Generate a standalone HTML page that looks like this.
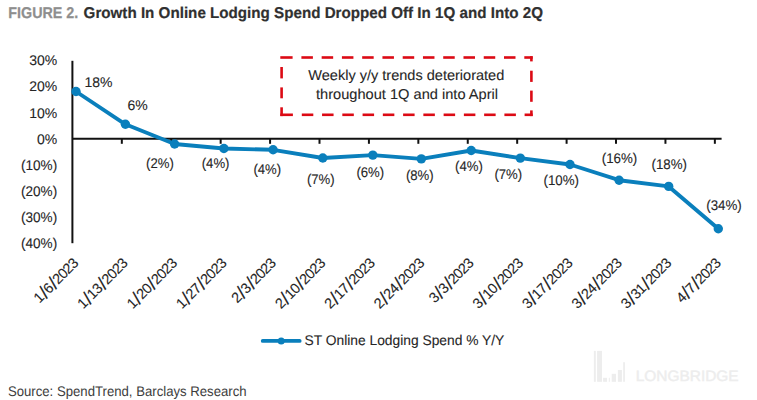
<!DOCTYPE html><html><head><meta charset="utf-8"><style>html,body{margin:0;padding:0;background:#fff;width:757px;height:400px;overflow:hidden}svg{display:block}text{font-family:"Liberation Sans",sans-serif;text-rendering:geometricPrecision}text.k{stroke:#262626;stroke-width:0.1px}text.h{stroke:#303030;stroke-width:0.2px}</style></head><body>
<svg width="757" height="400" viewBox="0 0 757 400">
<rect x="593.9" y="350.9" width="1.9" height="30.9" fill="#ededed"/>
<rect x="597.1" y="350.9" width="4.9" height="30.9" fill="#ededed"/>
<rect x="603.1" y="377.8" width="3.9" height="4.0" fill="#ededed"/>
<rect x="608.8" y="377.8" width="1.0" height="4.0" fill="#ededed"/>
<rect x="611.7" y="373.8" width="4.3" height="8.0" fill="#ededed"/>
<rect x="617.9" y="370" width="4.0" height="11.8" fill="#ededed"/>
<rect x="623.2" y="362.2" width="1.7" height="19.6" fill="#ededed"/>
<text x="635.7" y="381.4" font-size="15" fill="#ededed" stroke="#ededed" stroke-width="0.4" textLength="103" lengthAdjust="spacingAndGlyphs">LONGBRIDGE</text>
<text x="8.3" y="17.6" font-size="15.6" font-weight="bold" fill="#8e8e8e" stroke="#8e8e8e" stroke-width="0.25" textLength="70" lengthAdjust="spacingAndGlyphs">FIGURE 2.</text>
<text x="83.6" y="17.6" font-size="15.6" font-weight="bold" fill="#303030" class="h" textLength="459.4" lengthAdjust="spacingAndGlyphs">Growth In Online Lodging Spend Dropped Off In 1Q and Into 2Q</text>
<rect x="280.30" y="56.20" width="12.30" height="2.60" fill="#dc0a14"/>
<rect x="301.40" y="56.20" width="11.50" height="2.60" fill="#dc0a14"/>
<rect x="321.66" y="56.20" width="11.50" height="2.60" fill="#dc0a14"/>
<rect x="341.92" y="56.20" width="11.50" height="2.60" fill="#dc0a14"/>
<rect x="362.18" y="56.20" width="11.50" height="2.60" fill="#dc0a14"/>
<rect x="382.44" y="56.20" width="11.50" height="2.60" fill="#dc0a14"/>
<rect x="402.70" y="56.20" width="11.50" height="2.60" fill="#dc0a14"/>
<rect x="422.96" y="56.20" width="11.50" height="2.60" fill="#dc0a14"/>
<rect x="443.22" y="56.20" width="11.50" height="2.60" fill="#dc0a14"/>
<rect x="463.48" y="56.20" width="11.50" height="2.60" fill="#dc0a14"/>
<rect x="483.74" y="56.20" width="11.50" height="2.60" fill="#dc0a14"/>
<rect x="504.00" y="56.20" width="11.50" height="2.60" fill="#dc0a14"/>
<rect x="524.30" y="56.20" width="8.40" height="2.60" fill="#dc0a14"/>
<rect x="530.10" y="56.20" width="2.60" height="5.20" fill="#dc0a14"/>
<rect x="530.10" y="70.70" width="2.60" height="11.20" fill="#dc0a14"/>
<rect x="530.10" y="90.60" width="2.60" height="11.20" fill="#dc0a14"/>
<rect x="530.10" y="110.40" width="2.60" height="5.70" fill="#dc0a14"/>
<rect x="524.60" y="113.50" width="8.10" height="2.60" fill="#dc0a14"/>
<rect x="301.80" y="113.50" width="11.50" height="2.60" fill="#dc0a14"/>
<rect x="322.06" y="113.50" width="11.50" height="2.60" fill="#dc0a14"/>
<rect x="342.32" y="113.50" width="11.50" height="2.60" fill="#dc0a14"/>
<rect x="362.58" y="113.50" width="11.50" height="2.60" fill="#dc0a14"/>
<rect x="382.84" y="113.50" width="11.50" height="2.60" fill="#dc0a14"/>
<rect x="403.10" y="113.50" width="11.50" height="2.60" fill="#dc0a14"/>
<rect x="423.36" y="113.50" width="11.50" height="2.60" fill="#dc0a14"/>
<rect x="443.62" y="113.50" width="11.50" height="2.60" fill="#dc0a14"/>
<rect x="463.88" y="113.50" width="11.50" height="2.60" fill="#dc0a14"/>
<rect x="484.14" y="113.50" width="11.50" height="2.60" fill="#dc0a14"/>
<rect x="504.40" y="113.50" width="11.50" height="2.60" fill="#dc0a14"/>
<rect x="280.30" y="113.50" width="12.60" height="2.60" fill="#dc0a14"/>
<rect x="280.30" y="107.30" width="2.60" height="8.80" fill="#dc0a14"/>
<rect x="280.30" y="67.00" width="2.60" height="11.40" fill="#dc0a14"/>
<rect x="280.30" y="87.40" width="2.60" height="10.90" fill="#dc0a14"/>
<text x="406.3" y="80.2" font-size="14.3" fill="#262626" class="k" text-anchor="middle" textLength="196" lengthAdjust="spacingAndGlyphs">Weekly y/y trends deteriorated</text>
<text x="407" y="98.5" font-size="14.3" fill="#262626" class="k" text-anchor="middle" textLength="182" lengthAdjust="spacingAndGlyphs">throughout 1Q and into April</text>
<line x1="72.4" y1="60.8" x2="72.4" y2="243.2" stroke="#111" stroke-width="2"/>
<line x1="72.4" y1="138.8" x2="721.6" y2="138.8" stroke="#111" stroke-width="2"/>
<line x1="121.82" y1="138.8" x2="121.82" y2="143.8" stroke="#111" stroke-width="2"/>
<line x1="171.24" y1="138.8" x2="171.24" y2="143.8" stroke="#111" stroke-width="2"/>
<line x1="220.66" y1="138.8" x2="220.66" y2="143.8" stroke="#111" stroke-width="2"/>
<line x1="270.08" y1="138.8" x2="270.08" y2="143.8" stroke="#111" stroke-width="2"/>
<line x1="319.50" y1="138.8" x2="319.50" y2="143.8" stroke="#111" stroke-width="2"/>
<line x1="368.92" y1="138.8" x2="368.92" y2="143.8" stroke="#111" stroke-width="2"/>
<line x1="418.34" y1="138.8" x2="418.34" y2="143.8" stroke="#111" stroke-width="2"/>
<line x1="467.76" y1="138.8" x2="467.76" y2="143.8" stroke="#111" stroke-width="2"/>
<line x1="517.18" y1="138.8" x2="517.18" y2="143.8" stroke="#111" stroke-width="2"/>
<line x1="566.60" y1="138.8" x2="566.60" y2="143.8" stroke="#111" stroke-width="2"/>
<line x1="616.02" y1="138.8" x2="616.02" y2="143.8" stroke="#111" stroke-width="2"/>
<line x1="665.44" y1="138.8" x2="665.44" y2="143.8" stroke="#111" stroke-width="2"/>
<line x1="714.86" y1="138.8" x2="714.86" y2="143.8" stroke="#111" stroke-width="2"/>
<text x="57.2" y="64.8" font-size="14" fill="#262626" class="k" text-anchor="end">30%</text>
<text x="57.2" y="91.3" font-size="14" fill="#262626" class="k" text-anchor="end">20%</text>
<text x="57.2" y="118.0" font-size="14" fill="#262626" class="k" text-anchor="end">10%</text>
<text x="57.2" y="144.4" font-size="14" fill="#262626" class="k" text-anchor="end">0%</text>
<text x="57.2" y="170.2" font-size="14" fill="#262626" class="k" text-anchor="end" textLength="36.14" lengthAdjust="spacingAndGlyphs">(10%)</text>
<text x="57.2" y="196.2" font-size="14" fill="#262626" class="k" text-anchor="end" textLength="36.14" lengthAdjust="spacingAndGlyphs">(20%)</text>
<text x="57.2" y="222.3" font-size="14" fill="#262626" class="k" text-anchor="end" textLength="36.14" lengthAdjust="spacingAndGlyphs">(30%)</text>
<text x="57.2" y="247.8" font-size="14" fill="#262626" class="k" text-anchor="end" textLength="36.14" lengthAdjust="spacingAndGlyphs">(40%)</text>
<path d="M76,91.5 L125.4,124.3 L174.6,144 L223.9,148.5 L273.1,149.8 L322.8,158 L372.8,155.1 L421.3,158.9 L471.2,150.5 L520.3,158.1 L570,164.5 L619.1,180.2 L668.7,186.4 L718.3,228.8" fill="none" stroke="#0a7fbc" stroke-width="3.9" stroke-linejoin="round"/>
<circle cx="76" cy="91.5" r="4.7" fill="#0a7fbc"/>
<circle cx="125.4" cy="124.3" r="4.7" fill="#0a7fbc"/>
<circle cx="174.6" cy="144" r="4.7" fill="#0a7fbc"/>
<circle cx="223.9" cy="148.5" r="4.7" fill="#0a7fbc"/>
<circle cx="273.1" cy="149.8" r="4.7" fill="#0a7fbc"/>
<circle cx="322.8" cy="158" r="4.7" fill="#0a7fbc"/>
<circle cx="372.8" cy="155.1" r="4.7" fill="#0a7fbc"/>
<circle cx="421.3" cy="158.9" r="4.7" fill="#0a7fbc"/>
<circle cx="471.2" cy="150.5" r="4.7" fill="#0a7fbc"/>
<circle cx="520.3" cy="158.1" r="4.7" fill="#0a7fbc"/>
<circle cx="570" cy="164.5" r="4.7" fill="#0a7fbc"/>
<circle cx="619.1" cy="180.2" r="4.7" fill="#0a7fbc"/>
<circle cx="668.7" cy="186.4" r="4.7" fill="#0a7fbc"/>
<circle cx="718.3" cy="228.8" r="4.7" fill="#0a7fbc"/>
<text x="98.5" y="87.3" font-size="14" fill="#262626" class="k" text-anchor="middle">18%</text>
<text x="137.5" y="110.0" font-size="14" fill="#262626" class="k" text-anchor="middle">6%</text>
<text x="159.9" y="168.4" font-size="14" fill="#262626" class="k" text-anchor="middle" textLength="27.75" lengthAdjust="spacingAndGlyphs">(2%)</text>
<text x="215.6" y="168.1" font-size="14" fill="#262626" class="k" text-anchor="middle" textLength="27.75" lengthAdjust="spacingAndGlyphs">(4%)</text>
<text x="267.3" y="173.9" font-size="14" fill="#262626" class="k" text-anchor="middle" textLength="27.75" lengthAdjust="spacingAndGlyphs">(4%)</text>
<text x="320.8" y="184.2" font-size="14" fill="#262626" class="k" text-anchor="middle" textLength="27.75" lengthAdjust="spacingAndGlyphs">(7%)</text>
<text x="370.3" y="177.0" font-size="14" fill="#262626" class="k" text-anchor="middle" textLength="27.75" lengthAdjust="spacingAndGlyphs">(6%)</text>
<text x="419.8" y="180.2" font-size="14" fill="#262626" class="k" text-anchor="middle" textLength="27.75" lengthAdjust="spacingAndGlyphs">(8%)</text>
<text x="468.9" y="170.9" font-size="14" fill="#262626" class="k" text-anchor="middle" textLength="27.75" lengthAdjust="spacingAndGlyphs">(4%)</text>
<text x="508.3" y="178.5" font-size="14" fill="#262626" class="k" text-anchor="middle" textLength="27.75" lengthAdjust="spacingAndGlyphs">(7%)</text>
<text x="561.3" y="184.8" font-size="14" fill="#262626" class="k" text-anchor="middle" textLength="35.54" lengthAdjust="spacingAndGlyphs">(10%)</text>
<text x="619.5" y="162.7" font-size="14" fill="#262626" class="k" text-anchor="middle" textLength="35.54" lengthAdjust="spacingAndGlyphs">(16%)</text>
<text x="669.3" y="168.7" font-size="14" fill="#262626" class="k" text-anchor="middle" textLength="35.54" lengthAdjust="spacingAndGlyphs">(18%)</text>
<text x="724.0" y="210.3" font-size="14" fill="#262626" class="k" text-anchor="middle" textLength="35.54" lengthAdjust="spacingAndGlyphs">(34%)</text>
<text x="0" y="0" font-size="14.5" fill="#262626" class="k" text-anchor="end" textLength="56.43" lengthAdjust="spacing" transform="translate(79.40,263.9) rotate(-45)">1<tspan font-size="19" dy="1.5" dx="1.0">/</tspan><tspan dy="-1.5" dx="0.6">6</tspan><tspan font-size="19" dy="1.5" dx="1.0">/</tspan><tspan dy="-1.5" dx="0.6">2023</tspan></text>
<text x="0" y="0" font-size="14.5" fill="#262626" class="k" text-anchor="end" textLength="64.50" lengthAdjust="spacing" transform="translate(128.82,263.9) rotate(-45)">1<tspan font-size="19" dy="1.5" dx="1.0">/</tspan><tspan dy="-1.5" dx="0.6">13</tspan><tspan font-size="19" dy="1.5" dx="1.0">/</tspan><tspan dy="-1.5" dx="0.6">2023</tspan></text>
<text x="0" y="0" font-size="14.5" fill="#262626" class="k" text-anchor="end" textLength="64.50" lengthAdjust="spacing" transform="translate(178.24,263.9) rotate(-45)">1<tspan font-size="19" dy="1.5" dx="1.0">/</tspan><tspan dy="-1.5" dx="0.6">20</tspan><tspan font-size="19" dy="1.5" dx="1.0">/</tspan><tspan dy="-1.5" dx="0.6">2023</tspan></text>
<text x="0" y="0" font-size="14.5" fill="#262626" class="k" text-anchor="end" textLength="64.50" lengthAdjust="spacing" transform="translate(227.66,263.9) rotate(-45)">1<tspan font-size="19" dy="1.5" dx="1.0">/</tspan><tspan dy="-1.5" dx="0.6">27</tspan><tspan font-size="19" dy="1.5" dx="1.0">/</tspan><tspan dy="-1.5" dx="0.6">2023</tspan></text>
<text x="0" y="0" font-size="14.5" fill="#262626" class="k" text-anchor="end" textLength="56.43" lengthAdjust="spacing" transform="translate(277.08,263.9) rotate(-45)">2<tspan font-size="19" dy="1.5" dx="1.0">/</tspan><tspan dy="-1.5" dx="0.6">3</tspan><tspan font-size="19" dy="1.5" dx="1.0">/</tspan><tspan dy="-1.5" dx="0.6">2023</tspan></text>
<text x="0" y="0" font-size="14.5" fill="#262626" class="k" text-anchor="end" textLength="64.50" lengthAdjust="spacing" transform="translate(326.50,263.9) rotate(-45)">2<tspan font-size="19" dy="1.5" dx="1.0">/</tspan><tspan dy="-1.5" dx="0.6">10</tspan><tspan font-size="19" dy="1.5" dx="1.0">/</tspan><tspan dy="-1.5" dx="0.6">2023</tspan></text>
<text x="0" y="0" font-size="14.5" fill="#262626" class="k" text-anchor="end" textLength="64.50" lengthAdjust="spacing" transform="translate(375.92,263.9) rotate(-45)">2<tspan font-size="19" dy="1.5" dx="1.0">/</tspan><tspan dy="-1.5" dx="0.6">17</tspan><tspan font-size="19" dy="1.5" dx="1.0">/</tspan><tspan dy="-1.5" dx="0.6">2023</tspan></text>
<text x="0" y="0" font-size="14.5" fill="#262626" class="k" text-anchor="end" textLength="64.50" lengthAdjust="spacing" transform="translate(425.34,263.9) rotate(-45)">2<tspan font-size="19" dy="1.5" dx="1.0">/</tspan><tspan dy="-1.5" dx="0.6">24</tspan><tspan font-size="19" dy="1.5" dx="1.0">/</tspan><tspan dy="-1.5" dx="0.6">2023</tspan></text>
<text x="0" y="0" font-size="14.5" fill="#262626" class="k" text-anchor="end" textLength="56.43" lengthAdjust="spacing" transform="translate(474.76,263.9) rotate(-45)">3<tspan font-size="19" dy="1.5" dx="1.0">/</tspan><tspan dy="-1.5" dx="0.6">3</tspan><tspan font-size="19" dy="1.5" dx="1.0">/</tspan><tspan dy="-1.5" dx="0.6">2023</tspan></text>
<text x="0" y="0" font-size="14.5" fill="#262626" class="k" text-anchor="end" textLength="64.50" lengthAdjust="spacing" transform="translate(524.18,263.9) rotate(-45)">3<tspan font-size="19" dy="1.5" dx="1.0">/</tspan><tspan dy="-1.5" dx="0.6">10</tspan><tspan font-size="19" dy="1.5" dx="1.0">/</tspan><tspan dy="-1.5" dx="0.6">2023</tspan></text>
<text x="0" y="0" font-size="14.5" fill="#262626" class="k" text-anchor="end" textLength="64.50" lengthAdjust="spacing" transform="translate(573.60,263.9) rotate(-45)">3<tspan font-size="19" dy="1.5" dx="1.0">/</tspan><tspan dy="-1.5" dx="0.6">17</tspan><tspan font-size="19" dy="1.5" dx="1.0">/</tspan><tspan dy="-1.5" dx="0.6">2023</tspan></text>
<text x="0" y="0" font-size="14.5" fill="#262626" class="k" text-anchor="end" textLength="64.50" lengthAdjust="spacing" transform="translate(623.02,263.9) rotate(-45)">3<tspan font-size="19" dy="1.5" dx="1.0">/</tspan><tspan dy="-1.5" dx="0.6">24</tspan><tspan font-size="19" dy="1.5" dx="1.0">/</tspan><tspan dy="-1.5" dx="0.6">2023</tspan></text>
<text x="0" y="0" font-size="14.5" fill="#262626" class="k" text-anchor="end" textLength="64.50" lengthAdjust="spacing" transform="translate(672.44,263.9) rotate(-45)">3<tspan font-size="19" dy="1.5" dx="1.0">/</tspan><tspan dy="-1.5" dx="0.6">31</tspan><tspan font-size="19" dy="1.5" dx="1.0">/</tspan><tspan dy="-1.5" dx="0.6">2023</tspan></text>
<text x="0" y="0" font-size="14.5" fill="#262626" class="k" text-anchor="end" textLength="56.43" lengthAdjust="spacing" transform="translate(721.86,263.9) rotate(-45)">4<tspan font-size="19" dy="1.5" dx="1.0">/</tspan><tspan dy="-1.5" dx="0.6">7</tspan><tspan font-size="19" dy="1.5" dx="1.0">/</tspan><tspan dy="-1.5" dx="0.6">2023</tspan></text>
<line x1="262.7" y1="340.9" x2="299.7" y2="340.9" stroke="#0a7fbc" stroke-width="3.7" stroke-linecap="round"/>
<circle cx="281.2" cy="340.9" r="3.5" fill="#0a7fbc"/>
<text x="304.5" y="344.8" font-size="14" fill="#262626" class="k" textLength="199.8" lengthAdjust="spacingAndGlyphs">ST Online Lodging Spend % Y/Y</text>
<text x="7.9" y="395.6" font-size="14" fill="#3c3c3c" textLength="238.7" lengthAdjust="spacingAndGlyphs">Source: SpendTrend, Barclays Research</text>
</svg></body></html>
